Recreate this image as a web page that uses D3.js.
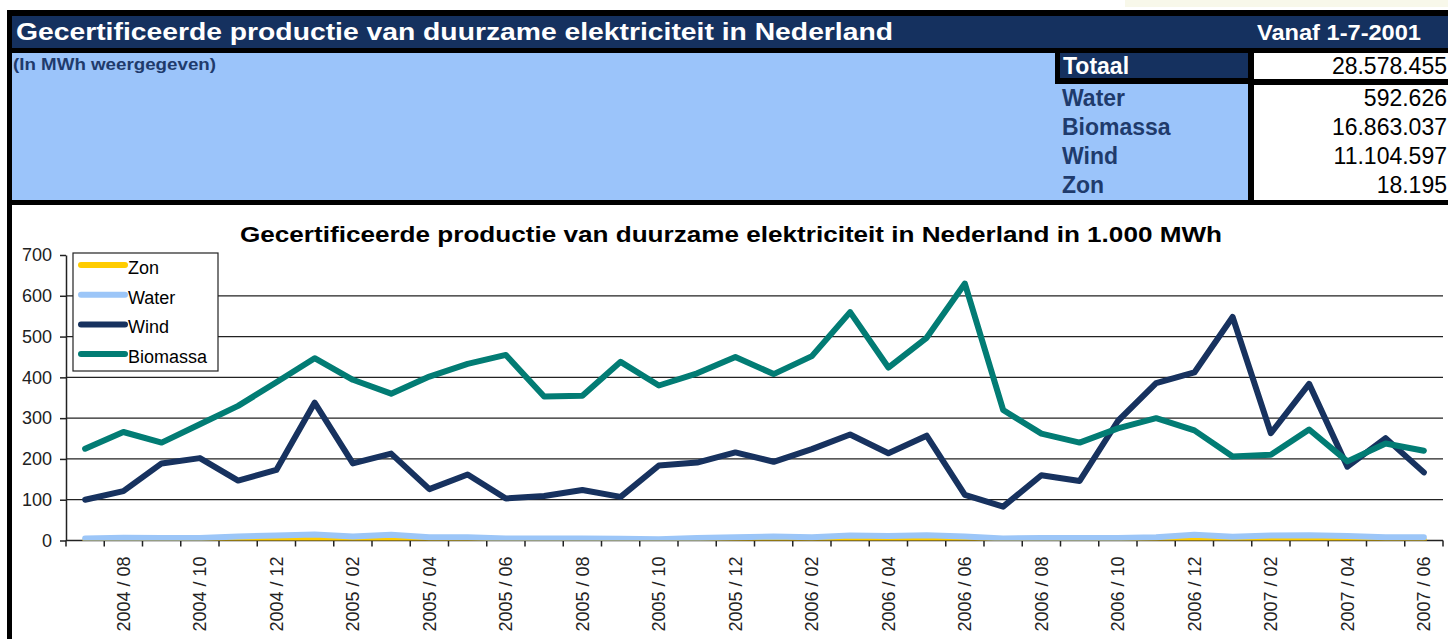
<!DOCTYPE html>
<html>
<head>
<meta charset="utf-8">
<title>Gecertificeerde productie van duurzame elektriciteit in Nederland</title>
<script src="https://cdn.jsdelivr.net/npm/d3@7"></script>
<style>
	html, body { margin: 0; padding: 0; background: #ffffff; }
	svg { display: block; font-family: "Liberation Sans", Arial, sans-serif; }
</style>
</head>
<body>
<div id="chart"></div>
<script>
'use strict';

/** @type {string[]} Months on the x axis */
var months = [
	'2004 / 07','2004 / 08','2004 / 09','2004 / 10','2004 / 11','2004 / 12',
	'2005 / 01','2005 / 02','2005 / 03','2005 / 04','2005 / 05','2005 / 06',
	'2005 / 07','2005 / 08','2005 / 09','2005 / 10','2005 / 11','2005 / 12',
	'2006 / 01','2006 / 02','2006 / 03','2006 / 04','2006 / 05','2006 / 06',
	'2006 / 07','2006 / 08','2006 / 09','2006 / 10','2006 / 11','2006 / 12',
	'2007 / 01','2007 / 02','2007 / 03','2007 / 04','2007 / 05','2007 / 06'
];

/** Series values, in 1.000 MWh */
var zon = [0.3,0.4,0.4,0.5,0.8,1.2,2.0,1.2,1.0,0.8,0.6,0.4,
	0.3,0.3,0.3,0.4,0.5,0.8,0.8,0.8,1.0,0.9,0.9,0.6,
	0.4,0.3,0.3,0.3,0.5,0.9,0.6,0.6,0.6,0.6,0.5,0.4];
var water = [5,7,6,6,10,12,15,10,14,8,8,5,
	5,5,4,3,6,8,10,8,12,11,13,10,
	5,6,6,6,8,14,9,12,13,11,8,8];
var wind = [100,121,189,202,147,173,338,189,213,126,162,103,
	109,124,107,184,191,216,193,224,260,214,257,112,
	83,160,146,293,386,412,548,263,384,181,251,167];
var biomassa = [225,266,240,285,330,388,447,394,360,402,433,455,
	353,355,438,380,410,450,408,452,560,424,497,630,
	320,262,240,275,300,270,206,210,272,194,238,220];

/** Series names and colours, in legend / drawing order */
var seriesNames = ['Zon','Water','Wind','Biomassa'];
var seriesColors = ['#ffcc00','#9cc6f8','#17325f','#027c74'];
var seriesValues = [zon, water, wind, biomassa];

/** Y axis ticks */
var yTicks = [0,100,200,300,400,500,600,700];
var gridTicks = [100,200,300,400,500,600];

/** Summary table (MWh) */
var totalLabel = 'Totaal';
var totalValue = '28.578.455';
var summaryLabels = ['Water','Biomassa','Wind','Zon'];
var summaryValues = ['592.626','16.863.037','11.104.597','18.195'];

(function() {
	var W = 1448, H = 639;
	var NAVY = '#15315f', LABEL = '#1f3b6c', LIGHT = '#9bc4fa';

	var svg = d3.select('#chart').append('svg')
		.attr('width', W)
		.attr('height', H);

	/***************************************
	 * HEADER BOX
	 ***************************************/

	svg.append('rect').attr('x',1125).attr('y',0).attr('width',323).attr('height',7)
		.attr('fill','#f8f8ea');
	//black frame behind everything
	svg.append('rect').attr('x',7).attr('y',10).attr('width',W-7).attr('height',195)
		.attr('fill','#000');
	svg.append('rect').attr('x',12).attr('y',16).attr('width',W-12).attr('height',32)
		.attr('fill',NAVY);
	svg.append('rect').attr('x',12).attr('y',53).attr('width',1236).attr('height',147)
		.attr('fill',LIGHT);
	//Totaal row
	svg.append('rect').attr('x',1055).attr('y',53).attr('width',W-1055).attr('height',31)
		.attr('fill','#000');
	svg.append('rect').attr('x',1060).attr('y',53).attr('width',188).attr('height',25)
		.attr('fill',NAVY);
	svg.append('rect').attr('x',1254).attr('y',53).attr('width',W-1254).attr('height',26)
		.attr('fill','#fff');
	//value cells
	svg.append('rect').attr('x',1248).attr('y',84).attr('width',6).attr('height',116)
		.attr('fill','#000');
	svg.append('rect').attr('x',1254).attr('y',85).attr('width',W-1254).attr('height',115)
		.attr('fill','#fff');
	//left border running down past the chart
	svg.append('rect').attr('x',7).attr('y',205).attr('width',5).attr('height',H-205)
		.attr('fill','#000');

	svg.append('text')
		.attr('x',16).attr('y',40)
		.attr('font-size',24).attr('font-weight','bold').attr('fill','#fff')
		.attr('textLength',877).attr('lengthAdjust','spacingAndGlyphs')
		.text('Gecertificeerde productie van duurzame elektriciteit in Nederland');
	svg.append('text')
		.attr('x',1257).attr('y',40)
		.attr('font-size',22).attr('font-weight','bold').attr('fill','#fff')
		.attr('textLength',164).attr('lengthAdjust','spacingAndGlyphs')
		.text('Vanaf 1-7-2001');
	svg.append('text')
		.attr('x',13).attr('y',70)
		.attr('font-size',16).attr('font-weight','bold').attr('fill',LABEL)
		.attr('textLength',203).attr('lengthAdjust','spacingAndGlyphs')
		.text('(In MWh weergegeven)');

	svg.append('text')
		.attr('x',1063).attr('y',74)
		.attr('font-size',23).attr('font-weight','bold').attr('fill','#fff')
		.text(totalLabel);
	svg.append('text')
		.attr('x',1447).attr('y',74).attr('text-anchor','end')
		.attr('font-size',23).attr('fill','#000')
		.text(totalValue);

	var rowY = d3.scalePoint().domain(summaryLabels).range([106,193]);
	svg.append('g').selectAll('text')
		.data(summaryLabels)
		.enter().append('text')
			.attr('x',1062).attr('y',function(d){return rowY(d);})
			.attr('font-size',23).attr('font-weight','bold').attr('fill',LABEL)
			.text(function(d){return d;});
	svg.append('g').selectAll('text')
		.data(summaryValues)
		.enter().append('text')
			.attr('x',1447).attr('y',function(d,i){return rowY(summaryLabels[i]);})
			.attr('text-anchor','end')
			.attr('font-size',23).attr('fill','#000')
			.text(function(d){return d;});

	/***************************************
	 * CHART
	 ***************************************/

	var plot = {left: 66, right: 1443, top: 255, bottom: 540.5};

	var x = d3.scaleBand().domain(months).range([plot.left, plot.right]);
	var y = d3.scaleLinear().domain([0,700]).range([plot.bottom, plot.top]);

	svg.append('text')
		.attr('x',731).attr('y',242).attr('text-anchor','middle')
		.attr('font-size',22).attr('font-weight','bold').attr('fill','#000')
		.attr('textLength',982).attr('lengthAdjust','spacingAndGlyphs')
		.text('Gecertificeerde productie van duurzame elektriciteit in Nederland in 1.000 MWh');

	//gridlines
	svg.append('g').selectAll('line')
		.data(gridTicks)
		.enter().append('line')
			.attr('x1',plot.left).attr('x2',plot.right)
			.attr('y1',function(d){return y(d);}).attr('y2',function(d){return y(d);})
			.attr('stroke','#222').attr('stroke-width',1.2);

	//y axis
	var yAxis = svg.append('g')
		.attr('transform','translate('+plot.left+',0)')
		.call(d3.axisLeft(y).tickValues(yTicks).tickSize(6).tickPadding(8).tickSizeOuter(0));
	yAxis.select('.domain').attr('stroke','#222').attr('stroke-width',1.5);
	yAxis.selectAll('.tick line').attr('stroke','#222').attr('stroke-width',1.5);
	yAxis.selectAll('text')
		.attr('font-family','"Liberation Sans", Arial, sans-serif')
		.attr('font-size',18).attr('fill','#222');

	//x axis: ticks between the months, labels on every other month
	var xAxis = svg.append('g');
	xAxis.append('line')
		.attr('x1',plot.left).attr('x2',plot.right)
		.attr('y1',plot.bottom).attr('y2',plot.bottom)
		.attr('stroke','#222').attr('stroke-width',1.5);
	xAxis.selectAll('line.tick')
		.data(months.concat([null]))
		.enter().append('line')
			.classed('tick',true)
			.attr('x1',function(d){return d === null ? plot.right : x(d);})
			.attr('x2',function(d){return d === null ? plot.right : x(d);})
			.attr('y1',plot.bottom).attr('y2',plot.bottom+6)
			.attr('stroke','#222').attr('stroke-width',1.5);
	xAxis.selectAll('text')
		.data(months.filter(function(d,i){return i % 2 === 1;}))
		.enter().append('text')
			.attr('transform',function(d){
				return 'translate('+(x(d)+x.bandwidth()/2)+','+(plot.bottom+16)+') rotate(-90)';
			})
			.attr('dy','0.35em')
			.attr('text-anchor','end')
			.attr('font-size',18).attr('fill','#222')
			.text(function(d){return d;});

	//lines, clipped to the plot area like the original
	svg.append('clipPath').attr('id','plotClip')
		.append('rect')
			.attr('x',plot.left).attr('y',plot.top)
			.attr('width',plot.right-plot.left).attr('height',plot.bottom-plot.top);

	var line = d3.line()
		.x(function(d,i){return x(months[i])+x.bandwidth()/2;})
		.y(function(d){return y(d);});

	svg.append('g')
		.attr('clip-path','url(#plotClip)')
		.selectAll('path')
		.data(seriesValues)
		.enter().append('path')
			.attr('d',function(d){return line(d);})
			.attr('fill','none')
			.attr('stroke',function(d,i){return seriesColors[i];})
			.attr('stroke-width',6)
			.attr('stroke-linejoin','round')
			.attr('stroke-linecap','round');

	/***************************************
	 * LEGEND
	 ***************************************/

	var legend = svg.append('g').attr('transform','translate(73,253)');
	legend.append('rect')
		.attr('x',0).attr('y',0).attr('width',145).attr('height',118)
		.attr('fill','#fff').attr('stroke','#222').attr('stroke-width',1.2);
	var items = legend.selectAll('g.item')
		.data(seriesNames)
		.enter().append('g')
			.classed('item',true)
			.attr('transform',function(d,i){return 'translate(0,'+(12+i*29.7)+')';});
	items.append('line')
		.attr('x1',8).attr('x2',52).attr('y1',0).attr('y2',0)
		.attr('stroke',function(d,i){return seriesColors[i];})
		.attr('stroke-width',6).attr('stroke-linecap','round');
	items.append('text')
		.attr('x',55).attr('y',9)
		.attr('font-size',18).attr('fill','#000')
		.text(function(d){return d;});
})();
</script>
</body>
</html>
